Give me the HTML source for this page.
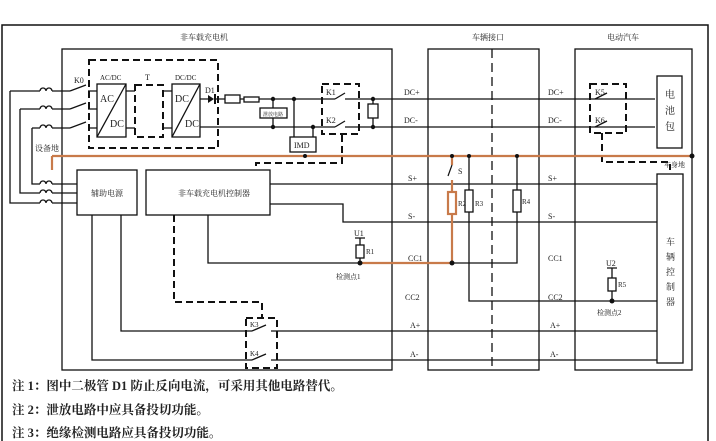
<!DOCTYPE html>
<html><head><meta charset="utf-8"><style>
html,body{margin:0;padding:0;background:#fff;}
svg{display:block;}
text{font-family:"Liberation Serif","Noto Serif CJK SC",serif;fill:#222;}
</style></head><body>
<svg width="716" height="441" viewBox="0 0 716 441" xmlns="http://www.w3.org/2000/svg">
<g fill="none" stroke="#111" stroke-width="1.3">
<rect x="2" y="25" width="706" height="420" stroke-width="1.5"/>
<rect x="62" y="49" width="330" height="321"/>
<rect x="428" y="49" width="111" height="321"/>
<rect x="575" y="49" width="117" height="321"/>
<line x1="492" y1="49" x2="492" y2="370" stroke-dasharray="9,5"/>
<rect x="89" y="60" width="129" height="88" stroke-dasharray="7,4" stroke-width="2"/>
<rect x="97" y="84" width="29" height="53"/>
<line x1="97" y1="137" x2="126" y2="84"/>
<rect x="135" y="85" width="28" height="52" stroke-dasharray="7,4" stroke-width="2"/>
<rect x="172" y="84" width="28" height="53"/>
<line x1="172" y1="137" x2="200" y2="84"/>
<path d="M10 91H40M52 91H70M10 91V203H40"/>
<path d="M20 109H40M52 109H70M20 109V193H40"/>
<path d="M32 128H40M52 128H70M32 128V184H40"/>
<path d="M40 91a3 3 0 0 1 6 0a3 3 0 0 1 6 0M40 109a3 3 0 0 1 6 0a3 3 0 0 1 6 0M40 128a3 3 0 0 1 6 0a3 3 0 0 1 6 0"/>
<path d="M40 184a3 3 0 0 1 6 0a3 3 0 0 1 6 0M40 193a3 3 0 0 1 6 0a3 3 0 0 1 6 0M40 203a3 3 0 0 1 6 0a3 3 0 0 1 6 0"/>
<path d="M52 184H77M52 193H77M52 203H77"/>
<path d="M70 91L86 85M70 109L86 103M70 128L86 122"/>
<path d="M88 91H97M88 109H97M88 128H97"/>
<path d="M126 91H135M126 128H135M163 91H172M163 128H172"/>
<path d="M200 99H208M216 99H225M240 99H244M259 99H335M345 99H655"/>
<path d="M200 127H335M345 127H655"/>
<path d="M335 99L345 93M335 127L345 121"/>
<rect x="225" y="95" width="15" height="8"/>
<rect x="244" y="97" width="15" height="5"/>
<path d="M273 99V108M273 118V127"/>
<rect x="260" y="108" width="27" height="10"/>
<path d="M294 99V137M313 127V137"/>
<rect x="290" y="137" width="26" height="15"/>
<rect x="322" y="84" width="37" height="50" stroke-dasharray="7,4" stroke-width="2"/>
<path d="M373 99V104M373 118V127"/>
<rect x="368" y="104" width="10" height="14"/>
<path d="M342 135V163H256V170" stroke-dasharray="7,4" stroke-width="2"/>
<path d="M595 99L607 93M595 127L607 121"/>
<rect x="590" y="84" width="36" height="49" stroke-dasharray="7,4" stroke-width="2"/>
<path d="M602 133V162H670V170" stroke-dasharray="7,4" stroke-width="2"/>
<rect x="657" y="76" width="25" height="72"/>
<rect x="77" y="170" width="60" height="45"/>
<rect x="146" y="170" width="124" height="45"/>
<rect x="657" y="174" width="26" height="189"/>
<path d="M270 184H657M270 204H343V222H657"/>
<path d="M208 215V263H360"/>
<path d="M452 263H517V212M517 190V156"/>
<rect x="513" y="190" width="8" height="22"/>
<path d="M469 156V190M469 212V301H657"/>
<rect x="465" y="190" width="8" height="22"/>
<path d="M92 215V360H252M121 215V331H252M271 331H657M271 360H657"/>
<path d="M252 331L266 325M252 360L266 354"/>
<path d="M174 215V302H262V318" stroke-dasharray="7,4" stroke-width="2"/>
<rect x="246" y="318" width="31" height="50" stroke-dasharray="7,4" stroke-width="2"/>
<path d="M360 238V245M360 258V263"/>
<rect x="356" y="245" width="8" height="13"/>
<path d="M355 238H365M607 268H617M612 268V278M612 291V301"/>
<rect x="608" y="278" width="8" height="13"/>
</g>
<g fill="none" stroke="#c87a4a" stroke-width="2.2">
<path d="M52 156H692M52 156V170"/>
<path d="M360 263H452V214M452 192V180M452 165V156"/>
<rect x="448" y="192" width="8" height="22"/>
</g>
<path d="M452 165L448 176" stroke="#111" stroke-width="1.2"/>
<g fill="#111">
<polygon points="208,95 208,103 214,99"/><rect x="214" y="94" width="2" height="10"/>
<circle cx="273" cy="99" r="2.2"/><circle cx="273" cy="127" r="2.2"/><circle cx="294" cy="99" r="2.2"/><circle cx="313" cy="127" r="2.2"/>
<circle cx="373" cy="99" r="2.2"/><circle cx="373" cy="127" r="2.2"/>
<circle cx="692" cy="156" r="2.5"/><circle cx="452" cy="156" r="2"/><circle cx="469" cy="156" r="2"/><circle cx="517" cy="156" r="2"/>
<circle cx="360" cy="263" r="2.5"/><circle cx="452" cy="263" r="2.5"/><circle cx="612" cy="301" r="2.5"/>
<circle cx="305" cy="156" r="2"/>
</g>
<g font-size="8">
<text x="180" y="40">非车载充电机</text>
<text x="472" y="40">车辆接口</text>
<text x="607" y="40">电动汽车</text>
<text x="74" y="83">K0</text>
<text x="100" y="80" font-size="7">AC/DC</text>
<text x="145" y="80">T</text>
<text x="175" y="80" font-size="7">DC/DC</text>
<text x="100" y="102" font-size="10">AC</text>
<text x="110" y="127" font-size="10">DC</text>
<text x="175" y="102" font-size="10">DC</text>
<text x="185" y="127" font-size="10">DC</text>
<text x="205" y="93">D1</text>
<text x="263" y="116" font-size="5">泄放电路</text>
<text x="294" y="148" font-size="8">IMD</text>
<text x="326" y="95">K1</text><text x="326" y="123">K2</text>
<text x="595" y="95">K5</text><text x="595" y="123">K6</text>
<text x="665" y="98" font-size="10">电</text><text x="665" y="114" font-size="10">池</text><text x="665" y="130" font-size="10">包</text>
<text x="35" y="151">设备地</text>
<text x="664" y="167" font-size="7">车身地</text>
<text x="91" y="196">辅助电源</text>
<text x="178" y="196">非车载充电机控制器</text>
<text x="404" y="95">DC+</text><text x="404" y="123">DC-</text>
<text x="548" y="95">DC+</text><text x="548" y="123">DC-</text>
<text x="408" y="181">S+</text><text x="408" y="219">S-</text>
<text x="548" y="181">S+</text><text x="548" y="219">S-</text>
<text x="408" y="261">CC1</text><text x="548" y="261">CC1</text>
<text x="405" y="300">CC2</text><text x="548" y="300">CC2</text>
<text x="410" y="328">A+</text><text x="550" y="328">A+</text>
<text x="410" y="357">A-</text><text x="550" y="357">A-</text>
<text x="458" y="174">S</text>
<text x="458" y="206" font-size="7">R2</text><text x="475" y="206" font-size="7">R3</text><text x="522" y="204" font-size="7">R4</text>
<text x="354" y="236">U1</text><text x="366" y="254" font-size="7">R1</text>
<text x="336" y="279" font-size="7">检测点1</text>
<text x="606" y="266">U2</text><text x="618" y="287" font-size="7">R5</text>
<text x="597" y="315" font-size="7">检测点2</text>
<text x="250" y="327" font-size="7">K3</text><text x="250" y="356" font-size="7">K4</text>
<text x="666" y="245" font-size="9">车</text><text x="666" y="260" font-size="9">辆</text><text x="666" y="275" font-size="9">控</text><text x="666" y="290" font-size="9">制</text><text x="666" y="305" font-size="9">器</text>
</g>
<g font-size="12.5" font-weight="bold" style="font-family:'Liberation Sans','Noto Sans CJK SC',sans-serif">
<text x="12" y="390">注 1：图中二极管 D1 防止反向电流，可采用其他电路替代。</text>
<text x="12" y="414">注 2：泄放电路中应具备投切功能。</text>
<text x="12" y="437">注 3：绝缘检测电路应具备投切功能。</text>
</g>
</svg>
</body></html>
